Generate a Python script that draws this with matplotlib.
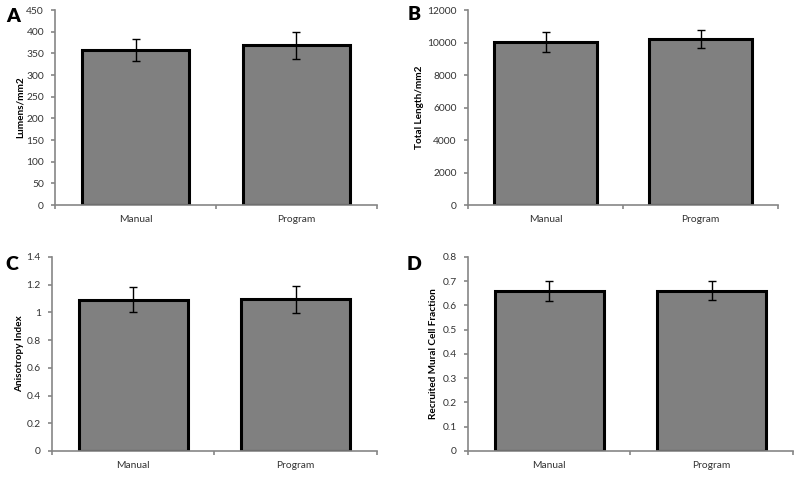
import matplotlib
matplotlib.use("Agg")
import matplotlib.pyplot as plt
from matplotlib.ticker import FixedLocator, NullFormatter, FixedFormatter

categories = ["Manual", "Program"]

lumens = [358, 369]
lumens_err = [26, 31]

total_length = [10030, 10215]
total_length_err = [615, 575]

anisotropy = [1.09, 1.095]
anisotropy_err = [0.09, 0.097]

mural = [0.661, 0.661]
mural_err = [0.041, 0.038]

panels = [
    dict(letter="A", vals=lumens, errs=lumens_err, ylabel="Lumens/mm2",
         ylim=(0, 450), yticks=list(range(0, 451, 50)),
         pos=[0.069, 0.572, 0.402, 0.407], letter_xy=(13, 17), ylab_x=20),
    dict(letter="B", vals=total_length, errs=total_length_err, ylabel="Total Length/mm2",
         ylim=(0, 12000), yticks=list(range(0, 12001, 2000)),
         pos=[0.585, 0.572, 0.3875, 0.407], letter_xy=(414, 15), ylab_x=419),
    dict(letter="C", vals=anisotropy, errs=anisotropy_err, ylabel="Anisotropy Index",
         ylim=(0, 1.4), yticks=[0, 0.2, 0.4, 0.6, 0.8, 1.0, 1.2, 1.4],
         pos=[0.065, 0.0585, 0.406, 0.405], letter_xy=(12, 265), ylab_x=20),
    dict(letter="D", vals=mural, errs=mural_err, ylabel="Recruited Mural Cell Fraction",
         ylim=(0, 0.8), yticks=[0, 0.1, 0.2, 0.3, 0.4, 0.5, 0.6, 0.7, 0.8],
         pos=[0.585, 0.0585, 0.406, 0.405], letter_xy=(414, 264), ylab_x=434),
]

def fmt(v):
    return "%g" % v

plt.rcParams['font.family'] = ['Lato', 'DejaVu Sans']

W, H = 800, 479
fig = plt.figure(figsize=(W / 100, H / 100), dpi=100)
axis_col = "#868686"
text_col = "#333333"

for p in panels:
    ax = fig.add_axes(p["pos"])
    x = list(range(len(categories)))
    ax.bar(x, p["vals"], width=0.67, color="#808080", edgecolor="black", linewidth=2.2, zorder=2)
    ax.errorbar(x, p["vals"], yerr=p["errs"], fmt="none", ecolor="black",
                elinewidth=1.0, capsize=3, capthick=1.0, zorder=3)
    ax.set_xlim(-0.5, len(categories) - 0.5)
    ax.set_ylim(*p["ylim"])
    for s in ["top", "right"]:
        ax.spines[s].set_visible(False)
    for s in ["left", "bottom"]:
        ax.spines[s].set_color(axis_col)
        ax.spines[s].set_linewidth(1.2)
    ax.set_yticks(p["yticks"])
    ax.set_yticklabels([fmt(v) for v in p["yticks"]])
    ax.xaxis.set_major_locator(FixedLocator([-0.5, 0.5, 1.5]))
    ax.xaxis.set_major_formatter(NullFormatter())
    ax.xaxis.set_minor_locator(FixedLocator(x))
    ax.xaxis.set_minor_formatter(FixedFormatter(categories))
    ax.tick_params(axis="x", which="major", length=3, color=axis_col, width=1.2, direction="out")
    ax.tick_params(axis="x", which="minor", length=0, labelsize=7.4, labelcolor=text_col, pad=7)
    ax.tick_params(axis="y", length=3, color=axis_col, width=1.2, direction="out",
                   labelsize=7.4, labelcolor=text_col, pad=5)
    fig.text(p["ylab_x"] / W, p["pos"][1] + p["pos"][3] / 2, p["ylabel"], rotation=90,
             ha="center", va="center", fontsize=7.2, fontweight="bold", color="black")
    fig.text(p["letter_xy"][0] / W, 1 - p["letter_xy"][1] / H, p["letter"],
             ha="center", va="center", fontsize=14, fontweight="heavy", color="black")

fig.savefig("out.png", dpi=100)
